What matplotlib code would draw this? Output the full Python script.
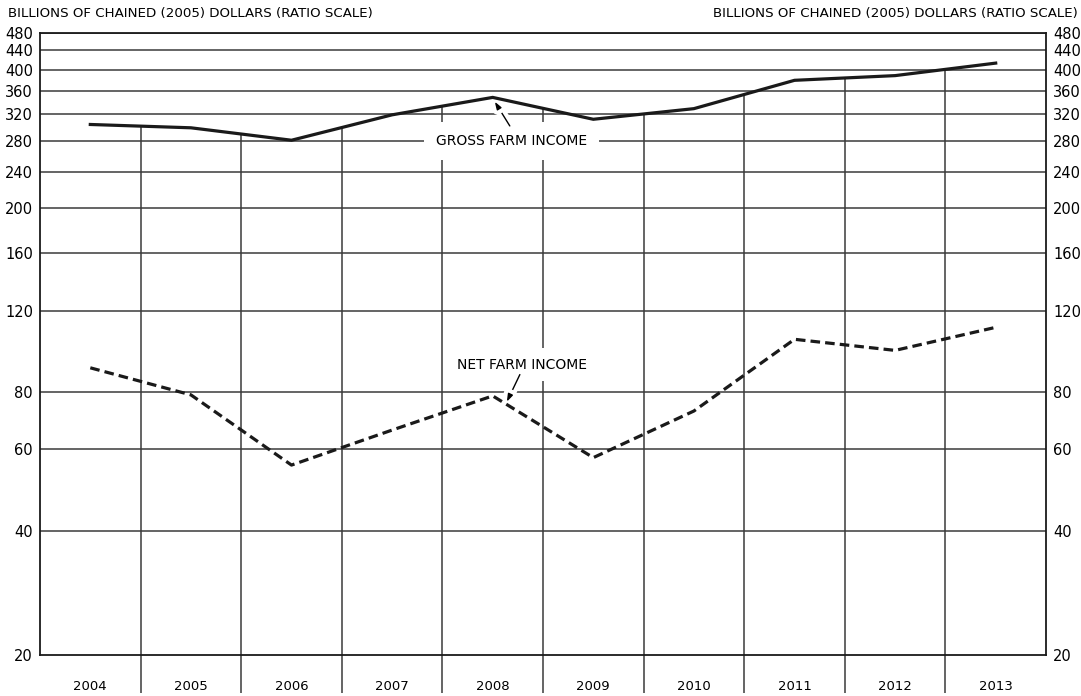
import numpy as np
import matplotlib
matplotlib.use("Agg")
import matplotlib.pyplot as plt
import matplotlib.patheffects as pe
from matplotlib.ticker import FixedLocator, NullFormatter

years = ["2004", "2005", "2006", "2007", "2008", "2009", "2010", "2011", "2012", "2013"]
gross_income = [304, 299, 281, 319, 348, 312, 329, 379, 388, 413]
net_income = [90.2, 78.8, 55.5, 66.1, 78.4, 57.6, 72.7, 104, 98.4, 110.4]
y_ticks = [40, 60, 80, 120, 160, 200, 240, 280, 320, 360, 400, 440, 480]
y_bottom = 21.5  # bottom of the frame, labelled "20" in the original
header = "BILLIONS OF CHAINED (2005) DOLLARS (RATIO SCALE)"

plt.rcParams['font.family'] = ['DejaVu Sans']
grid_color = "#3a3a3a"

fig = plt.figure(figsize=(10.81, 6.96), dpi=100)
ax = fig.add_axes([40 / 1081, 41 / 696, 1006 / 1081, 622 / 696])

x = np.arange(len(years)) + 0.5
bounds = np.arange(1, len(years))

ax.set_yscale("log")
ax.set_xlim(0, len(years))
ax.set_ylim(y_bottom, 480)

# horizontal rules
for v in y_ticks:
    ax.axhline(v, color=grid_color, lw=1.1, zorder=1)

# vertical rules stop at the gross income line
top = np.exp(np.interp(bounds, x, np.log(gross_income)))
ax.vlines(bounds, y_bottom, top, color=grid_color, lw=1.1, zorder=1)

ax.plot(x, gross_income, color="#1a1a1a", lw=2.3, zorder=5, solid_joinstyle="miter")
ax.plot(x, net_income, color="#1a1a1a", lw=2.3, zorder=5, dashes=(3, 1.6))

# labels and arrows
ax.text(4.69, 280, "GROSS FARM INCOME", ha="center", va="center", fontsize=10,
        bbox=dict(boxstyle="square,pad=0.85", fc="white", ec="none"), zorder=3)
ax.text(4.79, 91.6, "NET FARM INCOME", ha="center", va="center", fontsize=10,
        bbox=dict(boxstyle="square,pad=0.7", fc="white", ec="none"), zorder=3)

arrow = dict(arrowstyle="-|>,head_length=0.45,head_width=0.15", lw=1.0, color="black",
             shrinkA=0, shrinkB=0)
for xy, xytext in [((4.52, 340.8), (4.67, 301.8)), ((4.64, 76.1), (4.77, 87.2))]:
    a = ax.annotate("", xy=xy, xytext=xytext, arrowprops=arrow, zorder=4)
    a.arrow_patch.set_path_effects([pe.Stroke(linewidth=7, foreground="white"), pe.Normal()])

# y axis on both sides
ax.yaxis.set_major_locator(FixedLocator([y_bottom] + y_ticks))
ax.yaxis.set_minor_locator(FixedLocator([]))
ax.set_yticklabels(["20"] + [str(v) for v in y_ticks])
ax.yaxis.set_minor_formatter(NullFormatter())
ax.tick_params(axis="y", which="major", length=0, pad=5, labelsize=10.5,
               left=True, right=True, labelleft=True, labelright=True)

# years between long tick marks
ax.set_xticks(x)
ax.set_xticklabels(years)
ax.set_xticks(bounds, minor=True)
ax.tick_params(axis="x", which="major", length=0, pad=18, labelsize=9.5)
ax.tick_params(axis="x", which="minor", length=27, width=1.1, color=grid_color, direction="out")

for s in ax.spines.values():
    s.set_color("#1a1a1a")
    s.set_linewidth(1.3)

fig.text(8 / 1081, 1 - 14 / 696, header, ha="left", va="center", fontsize=9.6)
fig.text(1078 / 1081, 1 - 14 / 696, header, ha="right", va="center", fontsize=9.6)

fig.savefig("out.png", dpi=100)
